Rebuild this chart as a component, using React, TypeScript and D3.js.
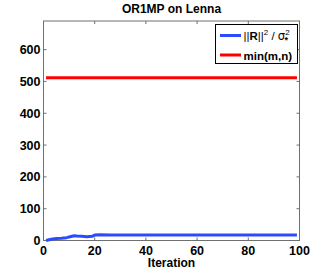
import React, { useEffect, useRef } from 'react';
import * as d3 from 'd3';

// chart values
const title = 'OR1MP on Lenna';
const xLabel = 'Iteration';
const xTicks = [0, 20, 40, 60, 80, 100];
const yTicks = [0, 100, 200, 300, 400, 500, 600];

// blue series: ||R||^2 / sigma^2 (break points of the curve)
const residIter = [1, 3, 5, 7, 9, 10, 12, 13, 15, 17, 19, 20, 22, 26, 40, 60, 80, 99];
const residVal = [0, 4, 6, 7, 9, 11, 15, 14, 13, 12, 13, 17, 18, 17, 17, 17, 17, 17];

// red series: min(m,n)
const minIter = [1, 99];
const minVal = [512, 512];

const W = 332;
const H = 271;

const App = () => {
  const svgRef = useRef<SVGSVGElement>(null);

  useEffect(() => {
    const svg = d3.select(svgRef.current);
    svg.selectAll('*').remove();

    const left = 43.5;
    const right = 299.5;
    const top = 21;
    const bottom = 240.5;

    const x = d3.scaleLinear().domain([0, 100]).range([left, right]);
    const y = d3.scaleLinear().domain([0, 690]).range([bottom, top]);

    const font = '"Liberation Sans", Arial, Helvetica, sans-serif';
    const axisColor = '#707070';

    svg.append('rect')
      .attr('width', W).attr('height', H).attr('fill', '#fff');

    // title
    svg.append('text')
      .attr('x', (left + right) / 2).attr('y', 12.5)
      .attr('text-anchor', 'middle')
      .attr('font-family', font).attr('font-weight', 'bold').attr('font-size', 12)
      .text(title);

    // axis box
    svg.append('rect')
      .attr('x', left).attr('y', top)
      .attr('width', right - left).attr('height', bottom - top)
      .attr('fill', 'none').attr('stroke', axisColor).attr('stroke-width', 1);

    // ticks inside the box, on all sides
    const tickLen = 3;
    xTicks.forEach((t) => {
      const px = x(t);
      svg.append('line').attr('x1', px).attr('x2', px)
        .attr('y1', bottom).attr('y2', bottom - tickLen)
        .attr('stroke', axisColor);
      svg.append('line').attr('x1', px).attr('x2', px)
        .attr('y1', top).attr('y2', top + tickLen)
        .attr('stroke', axisColor);
      svg.append('text')
        .attr('x', px).attr('y', bottom + 14)
        .attr('text-anchor', 'middle')
        .attr('font-family', font).attr('font-weight', 'bold').attr('font-size', 12.5)
        .text(t);
    });
    yTicks.forEach((t) => {
      const py = y(t);
      svg.append('line').attr('x1', left).attr('x2', left + tickLen)
        .attr('y1', py).attr('y2', py)
        .attr('stroke', axisColor);
      svg.append('line').attr('x1', right).attr('x2', right - tickLen)
        .attr('y1', py).attr('y2', py)
        .attr('stroke', axisColor);
      svg.append('text')
        .attr('x', left - 3).attr('y', py + 4.5)
        .attr('text-anchor', 'end')
        .attr('font-family', font).attr('font-weight', 'bold').attr('font-size', 12.5)
        .text(t);
    });

    // x axis label
    svg.append('text')
      .attr('x', (left + right) / 2).attr('y', 267)
      .attr('text-anchor', 'middle')
      .attr('font-family', font).attr('font-weight', 'bold').attr('font-size', 12)
      .text(xLabel);

    const mkPath = (its: number[], vals: number[]) =>
      d3.line<number>()
        .x((d) => x(d))
        .y((d, i) => y(vals[i]))(its);

    svg.append('path')
      .attr('d', mkPath(minIter, minVal))
      .attr('fill', 'none').attr('stroke', '#ff0000').attr('stroke-width', 3);

    svg.append('path')
      .attr('d', mkPath(residIter, residVal))
      .attr('fill', 'none').attr('stroke', '#2a4bff').attr('stroke-width', 3)
      .attr('stroke-linejoin', 'round');

    // legend
    const lg = svg.append('g');
    lg.append('rect')
      .attr('x', 215.5).attr('y', 24.5).attr('width', 82).attr('height', 39)
      .attr('fill', '#fff').attr('stroke', '#000').attr('stroke-width', 1);

    lg.append('line').attr('x1', 220).attr('x2', 241).attr('y1', 35.5).attr('y2', 35.5)
      .attr('stroke', '#2a4bff').attr('stroke-width', 3);
    lg.append('line').attr('x1', 220).attr('x2', 241).attr('y1', 55).attr('y2', 55)
      .attr('stroke', '#ff0000').attr('stroke-width', 3);

    const t1 = lg.append('text')
      .attr('x', 243.5).attr('y', 40)
      .attr('font-family', font).attr('font-size', 11.5);
    t1.append('tspan').text('||');
    t1.append('tspan').attr('font-weight', 'bold').text('R');
    t1.append('tspan').text('||');
    t1.append('tspan').attr('font-size', 8).attr('dy', -5).text('2');
    t1.append('tspan').attr('dy', 5).text(' / ');
    t1.append('tspan').attr('font-family', '"DejaVu Sans", sans-serif').text('σ');
    t1.append('tspan').attr('font-size', 8).attr('dy', -5).text('2');
    t1.append('tspan').attr('font-size', 9).attr('font-weight', 'bold')
      .attr('dx', -5).attr('dy', 8).text('*');

    lg.append('text')
      .attr('x', 243.5).attr('y', 59.5)
      .attr('font-family', font).attr('font-weight', 'bold').attr('font-size', 11.5)
      .text('min(m,n)');
  }, []);

  return (
    <svg
      ref={svgRef}
      width={W}
      height={H}
      style={{ position: 'absolute', left: 0, top: 0 }}
    ></svg>
  );
};

export default App;
